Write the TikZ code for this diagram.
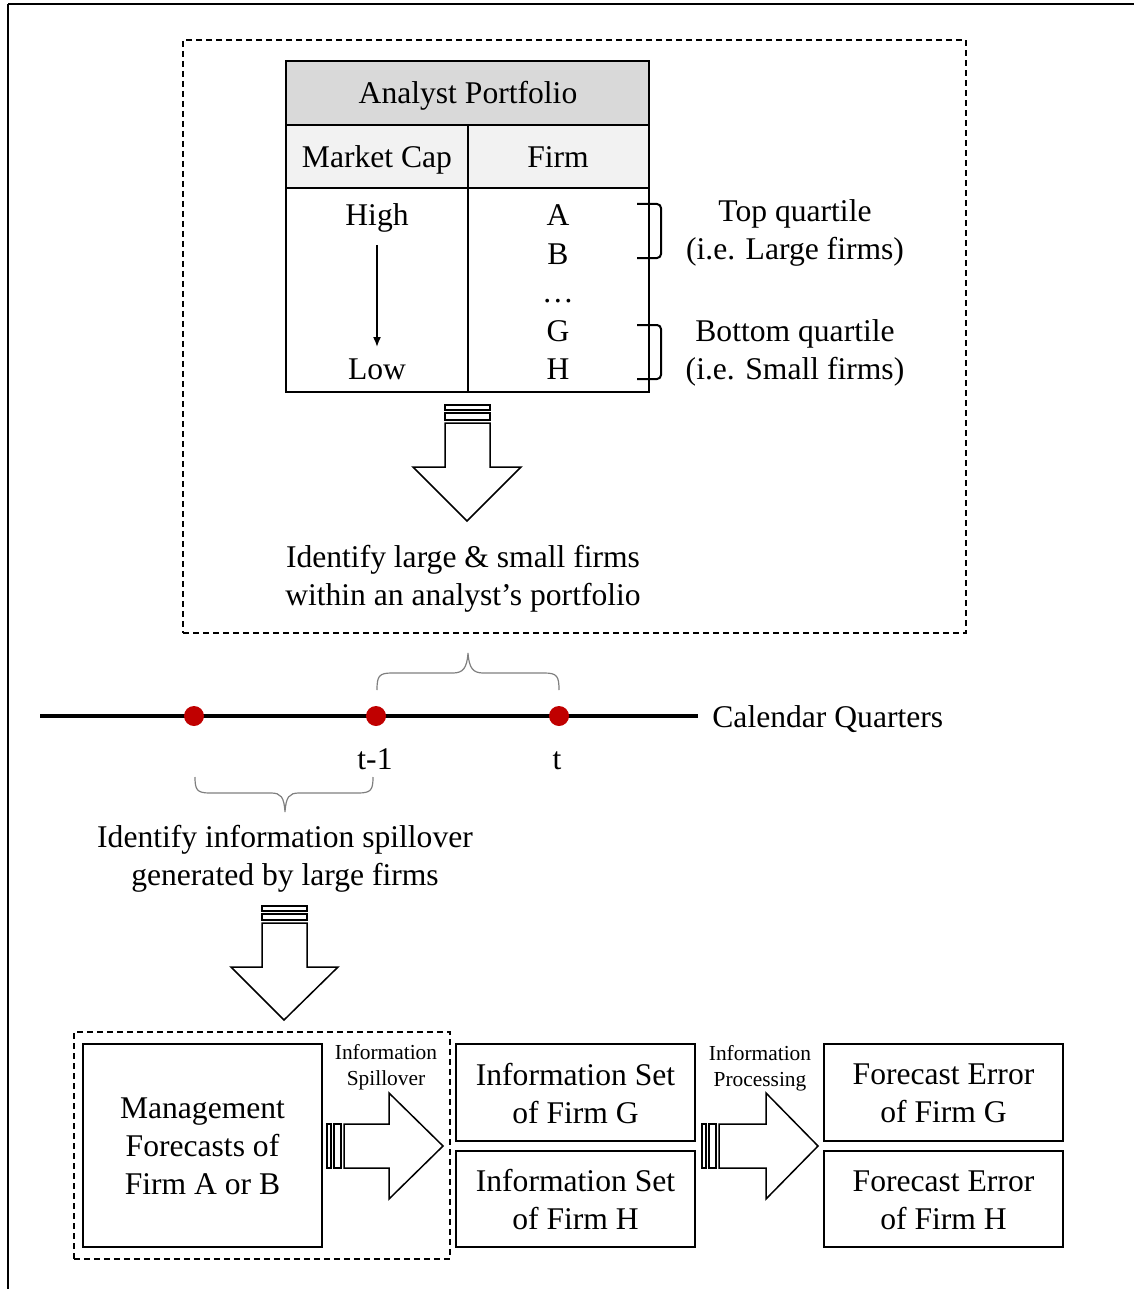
\documentclass[tikz,border=0pt]{standalone}
\usepackage{fontspec}
\setmainfont{Liberation Serif}
\usetikzlibrary{fit,arrows.meta}
\definecolor{hdr}{HTML}{D9D9D9}
\definecolor{subhdr}{HTML}{F2F2F2}
\definecolor{dotred}{HTML}{C00000}
\definecolor{bracegray}{HTML}{7F7F7F}
\begin{document}
\begin{tikzpicture}[x=0.5pt,y=-0.5pt,
  every node/.style={font=\fontsize{15.8pt}{19pt}\selectfont, inner sep=0pt},
  cell/.style={draw, line width=1pt, inner sep=0pt},
  box/.style={draw, line width=1pt, inner sep=0pt, align=center},
  dbox/.style={draw, line width=0.6pt, dash pattern=on 3pt off 2pt, inner sep=0pt},
  smalltext/.style={font=\fontsize{10.7pt}{13pt}\selectfont, align=center},
  blockarrow/.style={draw, line width=0.75pt, fill=white, line join=miter},
  reddot/.style={circle, fill=dotred, minimum size=10pt, inner sep=0pt},
  qbrace/.style={draw=bracegray, line width=0.6pt},
  bracket/.style={draw, line width=1pt, rounded corners=2pt},
]
\useasboundingbox (0,0) rectangle (1134,1289);
% outer frame
\draw[line width=0.9pt] (8,4) -- (1134,4);
\draw[line width=0.6pt] (8,4) -- (8,1289);

% top dashed box
\node[dbox, fit={(183,40) (966,633)}] (topbox) {};

% table
\node[cell, fill=hdr, fit={(286,61) (649,125)}] (thead) {};
\node[anchor=base] at (468,104) {Analyst Portfolio};
\node[cell, fill=subhdr, fit={(286,125) (468,188)}] (tcap) {};
\node[anchor=base] at (377,168) {Market Cap};
\node[cell, fill=subhdr, fit={(468,125) (649,188)}] (tfirm) {};
\node[anchor=base] at (558,168) {Firm};
\node[cell, fit={(286,188) (468,392)}] (tbodyl) {};
\node[cell, fit={(468,188) (649,392)}] (tbodyr) {};

\node[anchor=base] (high) at (377,226) {High};
\node[anchor=base] (low) at (377,379) {Low};
\coordinate (arrtop) at (377,245);
\coordinate (arrbot) at (377,347);
\draw[line width=0.8pt, -{Latex[length=5pt,width=4pt]}] (arrtop) -- (arrbot);

\node[anchor=base] (fa) at (558,226) {A};
\node[anchor=base] (fb) at (558,264) {B};
\node[anchor=base] (fdots) at (558,302) {\dots};
\node[anchor=base] (fg) at (558,341) {G};
\node[anchor=base] (fh) at (558,379) {H};

% brackets
\draw[bracket] (637,204) -- (661,204) -- (661,258) -- (637,258);
\draw[bracket] (637,325) -- (661,325) -- (661,379) -- (637,379);
\node[anchor=base] (topq) at (795,221) {Top quartile};
\node[anchor=base] (topq2) at (795,259) {(i.e. Large firms)};
\node[anchor=base] (botq) at (795,341) {Bottom quartile};
\node[anchor=base] (botq2) at (795,379) {(i.e. Small firms)};

% down arrow 1
\draw[blockarrow] (445,405) rectangle (490,410);
\draw[blockarrow] (445,413) rectangle (490,420);
\draw[blockarrow] (445,423) -- (445,467) -- (413,467) -- (467,521) -- (521,467) -- (490,467) -- (490,423) -- cycle;
\node[align=center] (ident1) at (463,579) {Identify large \& small firms\\within an analyst’s portfolio};

% timeline
\coordinate (tlstart) at (40,716);
\coordinate (tlend) at (698,716);
\draw[line width=2pt] (tlstart) -- (tlend);
\node[reddot] (q1) at (194,716) {};
\node[reddot] (q2) at (376,716) {};
\node[reddot] (q3) at (559,716) {};
\node[anchor=base west] (calq) at (712,727) {Calendar Quarters};
\node[anchor=base] (tm1) at (375,769) {t-1};
\node[anchor=base] (tt) at (557,769) {t};

% braces
\draw[qbrace] (377,690) .. controls (377,676) and (379,673) .. (392,673) -- (453,673)
  .. controls (463,673) and (467,668) .. (468,653)
  .. controls (469,668) and (473,673) .. (483,673) -- (544,673)
  .. controls (557,673) and (559,676) .. (559,690);
\draw[qbrace] (195,777) .. controls (195,790) and (197,793) .. (210,793) -- (271,793)
  .. controls (281,793) and (284,797) .. (285,812)
  .. controls (286,797) and (289,793) .. (299,793) -- (358,793)
  .. controls (371,793) and (373,790) .. (373,777);

\node[align=center] (ident2) at (285,859) {Identify information spillover\\generated by large firms};

% down arrow 2
\draw[blockarrow] (262,906) rectangle (307,911);
\draw[blockarrow] (262,914) rectangle (307,920);
\draw[blockarrow] (262,923) -- (262,967) -- (231,967) -- (284,1020) -- (338,967) -- (307,967) -- (307,923) -- cycle;

% bottom section
\node[dbox, fit={(74,1032) (450,1259)}] (botbox) {};
\node[box, fit={(83,1044) (322,1247)}] (mgmt) {};
\node[align=center] at ([yshift=-0.5pt]mgmt.center) {Management\\Forecasts of\\Firm A or B};

\node[box, fit={(456,1044) (695,1141)}] (isg) {};
\node[align=center] at ([yshift=-0.5pt]isg.center) {Information Set\\of Firm G};
\node[box, fit={(456,1151) (695,1247)}] (ish) {};
\node[align=center] at ([yshift=-0.5pt]ish.center) {Information Set\\of Firm H};

\node[box, fit={(824,1044) (1063,1141)}] (feg) {};
\node[align=center] at ([yshift=-0.5pt]feg.center) {Forecast Error\\of Firm G};
\node[box, fit={(824,1151) (1063,1247)}] (feh) {};
\node[align=center] at ([yshift=-0.5pt]feh.center) {Forecast Error\\of Firm H};

\node[smalltext] (spill) at (386,1067) {Information\\Spillover};
\node[smalltext] (proc) at (760,1068) {Information\\Processing};

% right arrow 1
\draw[blockarrow] (327,1124) rectangle (331,1168);
\draw[blockarrow] (334,1124) rectangle (341,1168);
\draw[blockarrow] (344,1124) -- (389,1124) -- (389,1093) -- (443,1146) -- (389,1199) -- (389,1168) -- (344,1168) -- cycle;

% right arrow 2
\draw[blockarrow] (702,1124) rectangle (706,1168);
\draw[blockarrow] (709,1124) rectangle (716,1168);
\draw[blockarrow] (719,1124) -- (766,1124) -- (766,1093) -- (818,1146) -- (766,1199) -- (766,1168) -- (719,1168) -- cycle;
\end{tikzpicture}
\end{document}
